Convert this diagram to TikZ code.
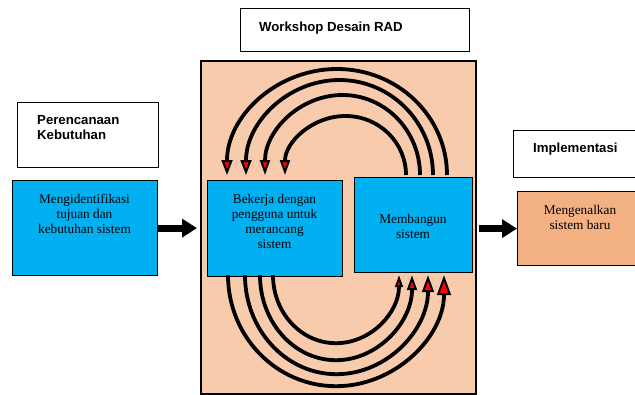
\documentclass[tikz,border=0pt]{standalone}
\usepackage{fontspec}
\setmainfont{Liberation Serif}
\newfontfamily\headfont{Liberation Sans}
\usetikzlibrary{arrows.meta,calc}
\definecolor{boxcyan}{HTML}{00B0F0}
\definecolor{panelpeach}{HTML}{F8CBAD}
\definecolor{introorange}{HTML}{F4B183}
\tikzset{
  frame/.style={draw=black, line width=1.2pt, inner sep=0pt, anchor=north west},
  bluebox/.style={frame, fill=boxcyan},
  heading/.style={font=\headfont\bfseries\fontsize{13.2}{15}\selectfont, inner sep=0pt, align=left},
  body/.style={font=\fontsize{13.3}{15}\selectfont, inner sep=0pt, align=center},
  loopline/.style={draw=black, line width=3.8pt},
  redtip/.style 2 args={-{Triangle[length=#1,width=#2,line width=2pt,fill=red]}},
  bigarrow/.style={draw=black, line width=7pt, -{Triangle[length=15pt,width=18pt]}},
}
\begin{document}
\begin{tikzpicture}[x=1pt,y=-1pt]
\clip (0,0) rectangle (635,394);
\fill[white] (0,0) rectangle (635,394);

% header boxes
\node[frame, minimum width=229pt, minimum height=43pt] (wsbox) at (240,8) {};
\node[heading, anchor=base west] (wstitle) at (259,31) {Workshop Desain RAD};

% workshop panel
\node[frame, fill=panelpeach, line width=1.8pt, minimum width=275pt, minimum height=333pt] (panel) at (200,60) {};

% requirements planning
\node[frame, minimum width=141pt, minimum height=65pt] (planbox) at (17,102) {};
\node[heading, anchor=west] (plantitle) at (37,127.5) {Perencanaan\\Kebutuhan};
\node[bluebox, minimum width=145pt, minimum height=95pt] (ident) at (12,180) {};
\node[body] (identtext) at (84.5,214) {Mengidentifikasi\\tujuan dan\\kebutuhan sistem};

% design workshop steps
\node[bluebox, minimum width=135pt, minimum height=96pt] (work) at (207,180) {};
\node[body] (worktext) at (274.5,221.5) {Bekerja dengan\\pengguna untuk\\merancang\\sistem};
\node[bluebox, minimum width=118pt, minimum height=95pt] (build) at (354,177) {};
\node[body] (buildtext) at (413,226) {Membangun\\sistem};

% implementation
\node[frame, minimum width=140pt, minimum height=47pt] (implbox) at (513,130) {};
\node[heading, anchor=base west] (impltitle) at (533,152) {Implementasi};
\node[frame, fill=introorange, minimum width=130pt, minimum height=74pt] (intro) at (517,191) {};
\node[body] (introtext) at (580,217.5) {Mengenalkan\\sistem baru};

% flow between phases
\draw[bigarrow] (ident.east) -- ($(panel.west |- ident.east)+(-3,0)$);
\draw[bigarrow] ($(panel.east |- intro.west)+(2,0)$) -- (intro.west);

% iteration loops: build -> design (over the top)
\draw[loopline, redtip={15pt}{11pt}] ($(build.north west)+(93,-2)$) arc[start angle=0, end angle=180, x radius=110pt, y radius=106pt];
\draw[loopline, redtip={15pt}{11pt}] ($(build.north west)+(79,-2)$) arc[start angle=0, end angle=180, x radius=93.5pt, y radius=95pt];
\draw[loopline, redtip={15pt}{10pt}] ($(build.north west)+(66,-2)$) arc[start angle=0, end angle=180, x radius=77.5pt, y radius=80pt];
\draw[loopline, redtip={15pt}{10pt}] ($(build.north west)+(52,-2)$) arc[start angle=0, end angle=180, x radius=60.5pt, y radius=59pt];

% iteration loops: design -> build (underneath)
\draw[loopline, redtip={20pt}{14pt}] ($(work.south west)+(21,-2)$) arc[start angle=180, end angle=360, x radius=108pt, y radius=111pt];
\draw[loopline, redtip={17pt}{12pt}] ($(work.south west)+(38,-2)$) arc[start angle=180, end angle=360, x radius=91.5pt, y radius=99pt];
\draw[loopline, redtip={15pt}{10pt}] ($(work.south west)+(53,-2)$) arc[start angle=180, end angle=360, x radius=76pt, y radius=85pt];
\draw[loopline, redtip={12pt}{8pt}] ($(work.south west)+(66,-2)$) arc[start angle=180, end angle=360, x radius=63pt, y radius=68pt];
\end{tikzpicture}
\end{document}
